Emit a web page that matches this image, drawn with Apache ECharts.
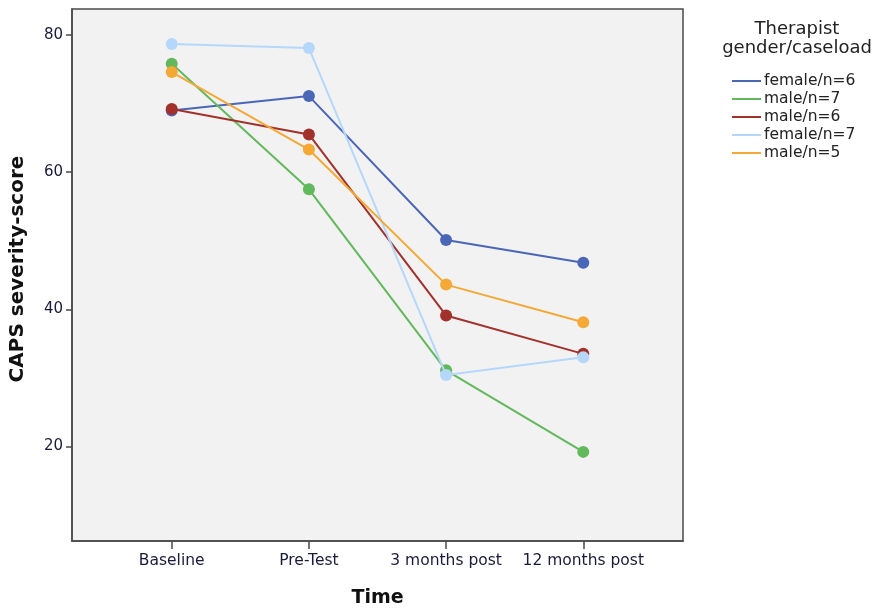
<!DOCTYPE html>
<html>
<head>
<meta charset="utf-8">
<script src="https://cdn.jsdelivr.net/npm/echarts@6/dist/echarts.min.js"></script>
<style>
  html, body { margin: 0; padding: 0; background: #ffffff; }
  #chart { width: 872px; height: 610px; }
</style>
</head>
<body>
<div id="chart"></div>
<script>
// Time points of the CAPS assessment
const timePoints = ['Baseline', 'Pre-Test', '3 months post', '12 months post'];
const yTicks = [20, 40, 60, 80];

// Mean CAPS severity per therapist group
const seriesNames = ['female/n=6', 'male/n=7', 'male/n=6', 'female/n=7', 'male/n=5'];
const femaleN6 = [69.0, 71.1, 50.1, 46.8];
const maleN7 = [75.8, 57.5, 31.1, 19.2];
const maleN6 = [69.2, 65.5, 39.1, 33.5];
const femaleN7 = [78.7, 78.1, 30.4, 33.0];
const maleN5 = [74.6, 63.3, 43.6, 38.1];

const groupValues = [femaleN6, maleN7, maleN6, femaleN7, maleN5];
const colors = ['#4a66b6', '#62b95c', '#a2312b', '#b5d7fb', '#f4a835'];

const font = '"DejaVu Sans", sans-serif';

const chart = echarts.init(document.getElementById('chart'), null, { renderer: 'canvas' });

const series = seriesNames.map((name, i) => ({
  name: name,
  type: 'line',
  data: groupValues[i].map((v, k) => [k, v]),
  symbol: 'circle',
  symbolSize: 12,
  lineStyle: { width: 2, color: colors[i] },
  itemStyle: { color: colors[i] },
  emphasis: { disabled: true },
  z: 2 + i
}));

chart.setOption({
  animation: false,
  title: {
    text: 'Therapist\ngender/caseload',
    left: 792,
    top: 15,
    textAlign: 'center',
    textStyle: { fontFamily: font, fontSize: 18, fontWeight: 'normal', color: '#222', lineHeight: 19 }
  },
  legend: {
    data: seriesNames,
    orient: 'vertical',
    left: 727,
    top: 68,
    icon: 'rect',
    itemWidth: 29,
    itemHeight: 2,
    itemGap: 2,
    textStyle: { fontFamily: font, fontSize: 15.5, color: '#222', padding: [0, 0, 0, -2] },
    selectedMode: false
  },
  grid: {
    left: 72,
    top: 9,
    right: 189,
    bottom: 69,
    outerBoundsMode: 'none',
    containLabel: false,
    show: true,
    backgroundColor: '#f2f2f2',
    borderColor: '#4a4a4a',
    borderWidth: 1.5
  },
  xAxis: {
    type: 'value',
    min: -0.727,
    max: 3.727,
    name: 'Time',
    nameLocation: 'middle',
    nameGap: 48,
    nameTextStyle: { fontFamily: font, fontSize: 19, fontWeight: 'bold', color: '#111' },
    axisLine: { show: true, onZero: false, lineStyle: { color: '#4a4a4a', width: 1.5 } },
    axisTick: { show: true, customValues: [0, 1, 2, 3], length: 8, lineStyle: { color: '#4a4a4a', width: 1.5 } },
    axisLabel: {
      customValues: [0, 1, 2, 3],
      formatter: v => timePoints[Math.round(v)],
      fontFamily: font,
      fontSize: 15.5,
      color: '#1a1a3a',
      margin: 12
    },
    splitLine: { show: false }
  },
  yAxis: {
    type: 'value',
    min: 6.2,
    max: 83.8,
    name: 'CAPS severity-score',
    nameLocation: 'middle',
    nameGap: 44,
    nameTextStyle: { fontFamily: font, fontSize: 20, fontWeight: 'bold', color: '#111', padding: [0, 0, 0, 12] },
    axisLine: { show: true, onZero: false, lineStyle: { color: '#4a4a4a', width: 1.5 } },
    axisTick: { show: true, customValues: yTicks, length: 6, lineStyle: { color: '#4a4a4a', width: 1.5 } },
    axisLabel: {
      customValues: yTicks,
      fontFamily: font,
      fontSize: 15,
      color: '#1a1a3a',
      margin: 9
    },
    splitLine: { show: false }
  },
  series: series
});
</script>
</body>
</html>
